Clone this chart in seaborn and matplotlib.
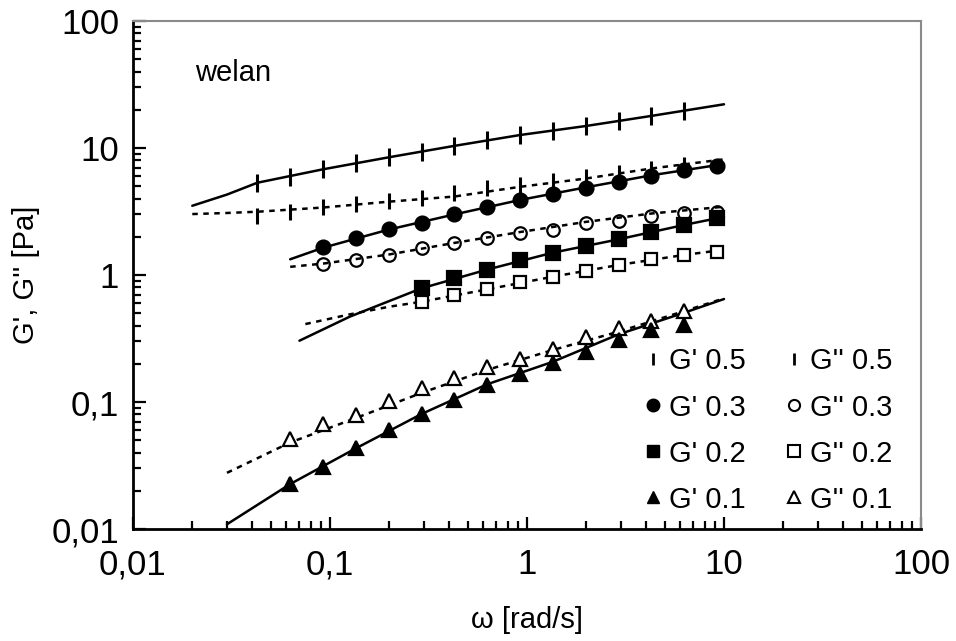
import matplotlib
matplotlib.use("Agg")
import matplotlib.pyplot as plt
import seaborn as sns
from matplotlib.lines import Line2D
from matplotlib.ticker import LogLocator, FuncFormatter, NullFormatter

# Angular frequencies of the oscillatory sweep (rad/s)
omega = [0.0428, 0.0628, 0.0922, 0.1354, 0.1987, 0.2916, 0.4281,
         0.6283, 0.9222, 1.354, 1.987, 2.916, 4.281, 6.283, 9.222]

# Measured moduli (Pa) for each welan concentration
gp_05 = [5.33, 5.94, 6.80, 7.58, 8.45, 9.35, 10.4, 11.56, 12.66, 13.7, 14.9, 16.4, 17.9, 19.7]
gpp_05 = [2.93, 3.15, 3.41, 3.62, 3.85, 4.06, 4.40, 4.82, 5.12, 5.53, 5.88, 6.40, 6.85, 7.40]
gp_03 = [1.67, 1.95, 2.30, 2.58, 3.02, 3.45, 3.90, 4.34, 4.87, 5.43, 6.05, 6.71, 7.26]
gpp_03 = [1.22, 1.31, 1.44, 1.62, 1.78, 1.95, 2.15, 2.26, 2.55, 2.68, 2.92, 3.09, 3.15]
gp_02 = [0.786, 0.942, 1.104, 1.31, 1.50, 1.69, 1.91, 2.19, 2.48, 2.79]
gpp_02 = [0.616, 0.696, 0.771, 0.886, 0.970, 1.08, 1.20, 1.33, 1.44, 1.52]
gp_01 = [0.0226, 0.0310, 0.0432, 0.0602, 0.0805, 0.1037, 0.136, 0.166, 0.202, 0.249, 0.308, 0.369, 0.404]
gpp_01 = [0.0508, 0.0671, 0.0790, 0.1023, 0.128, 0.155, 0.188, 0.218, 0.260, 0.323, 0.380, 0.437, 0.524]

# Model curves (solid: G', dotted: G'')
fit_w_05 = [0.02, 0.03, 0.0428, 0.0922, 0.1987, 0.4281, 0.9222, 1.987, 4.281, 10]
fit_gp_05 = [3.51, 4.30, 5.33, 6.80, 8.45, 10.4, 12.66, 14.9, 17.9, 22.1]
fit_gpp_05 = [3.02, 3.08, 3.15, 3.40, 3.78, 4.15, 4.95, 5.75, 6.90, 8.15]
fit_w_03 = [0.0628, 0.0922, 0.1987, 0.4281, 0.9222, 1.987, 4.281, 10]
fit_gp_03 = [1.33, 1.64, 2.28, 3.0, 3.9, 4.9, 6.1, 7.48]
fit_gpp_03 = [1.16, 1.23, 1.45, 1.79, 2.18, 2.62, 3.05, 3.45]
fit_w_02g1 = [0.07, 0.126, 0.2, 0.2916, 0.6283, 1.354, 2.916, 6.283, 10]
fit_gp_02 = [0.304, 0.47, 0.624, 0.786, 1.104, 1.50, 1.91, 2.48, 2.87]
fit_w_02g2 = [0.075, 0.126, 0.2, 0.2916, 0.6283, 1.354, 2.916, 6.283, 10]
fit_gpp_02 = [0.411, 0.49, 0.563, 0.616, 0.771, 0.97, 1.20, 1.44, 1.58]
fit_w_01 = [0.03, 0.0628, 0.1354, 0.2916, 0.6283, 1.354, 2.916, 6.283, 10]
fit_gp_01 = [0.0109, 0.0226, 0.0432, 0.0805, 0.138, 0.2075, 0.341, 0.505, 0.647]
fit_gpp_01 = [0.0277, 0.048, 0.0748, 0.118, 0.179, 0.257, 0.358, 0.52, 0.655]

legend_labels = ["G' 0.5", "G' 0.3", "G' 0.2", "G' 0.1",
                 "G'' 0.5", "G'' 0.3", "G'' 0.2", "G'' 0.1"]

sns.set_style("ticks")
plt.rcParams["font.family"] = ["Liberation Sans", "DejaVu Sans"]
plt.rcParams.update({"text.color": "black", "axes.labelcolor": "black",
                     "xtick.color": "black", "ytick.color": "black"})

fig = plt.figure(figsize=(9.56, 6.41), dpi=100)
ax = fig.add_axes([0.1391, 0.1747, 0.8243, 0.7925])

solid = dict(color="black", linewidth=1.8, estimator=None, sort=False)
dotted = dict(color="black", linewidth=1.8, estimator=None, sort=False,
              linestyle=(0, (2.2, 2.2)))

sns.lineplot(x=fit_w_05, y=fit_gp_05, ax=ax, **solid)
sns.lineplot(x=fit_w_05, y=fit_gpp_05, ax=ax, **dotted)
sns.lineplot(x=fit_w_03, y=fit_gp_03, ax=ax, **solid)
sns.lineplot(x=fit_w_03, y=fit_gpp_03, ax=ax, **dotted)
sns.lineplot(x=fit_w_02g1, y=fit_gp_02, ax=ax, **solid)
sns.lineplot(x=fit_w_02g2, y=fit_gpp_02, ax=ax, **dotted)
sns.lineplot(x=fit_w_01, y=fit_gp_01, ax=ax, **solid)
sns.lineplot(x=fit_w_01, y=fit_gpp_01, ax=ax, **dotted)


def points(w, g, marker, size, face, edge_w=1.6):
    sns.lineplot(x=w, y=g, ax=ax, estimator=None, sort=False, linestyle="",
                 marker=marker, markersize=size, color="black",
                 markerfacecolor=face, markeredgecolor="black",
                 markeredgewidth=edge_w)


# G'' first, G' on top
points(omega[0:14], gpp_05, "|", 12, "black", 2.2)
points(omega[2:15], gpp_03, "o", 9, "none")
points(omega[5:15], gpp_02, "s", 9, "white")
points(omega[1:14], gpp_01, "^", 9.5, "white")
points(omega[0:14], gp_05, "|", 13, "black", 2.2)
points(omega[2:15], gp_03, "o", 10, "black")
points(omega[5:15], gp_02, "s", 9.5, "black")
points(omega[1:14], gp_01, "^", 10, "black")

ax.set_xscale("log")
ax.set_yscale("log")
ax.set_xlim(0.01, 100)
ax.set_ylim(0.01, 100)


def comma_fmt(v, _pos):
    s = f"{v:g}"
    return s.replace(".", ",")


for axis in (ax.xaxis, ax.yaxis):
    axis.set_major_locator(LogLocator(base=10, numticks=10))
    axis.set_minor_locator(LogLocator(base=10, subs=range(2, 10), numticks=20))
    axis.set_major_formatter(FuncFormatter(comma_fmt))
    axis.set_minor_formatter(NullFormatter())

ax.tick_params(which="both", direction="in", top=False, right=False,
               width=1.6, colors="black", labelsize=25, pad=14)
ax.tick_params(which="major", length=9)
ax.tick_params(which="minor", length=6)
ax.tick_params(axis="y", pad=10)

for side in ("left", "bottom"):
    ax.spines[side].set_linewidth(2)
    ax.spines[side].set_color("black")
for side in ("top", "right"):
    ax.spines[side].set_linewidth(1.5)
    ax.spines[side].set_color("#8a8a8a")

ax.set_xlabel("ω [rad/s]", fontsize=21, labelpad=18)
ax.set_ylabel("G', G'' [Pa]", fontsize=21, labelpad=8)

ax.text(0.079, 0.882, "welan", transform=ax.transAxes, fontsize=21,
        va="baseline", ha="left")

handles = [
    Line2D([], [], linestyle="", marker="|", markersize=9, markeredgewidth=2, color="black"),
    Line2D([], [], linestyle="", marker="o", markersize=9, color="black"),
    Line2D([], [], linestyle="", marker="s", markersize=9, color="black"),
    Line2D([], [], linestyle="", marker="^", markersize=9, color="black"),
    Line2D([], [], linestyle="", marker="|", markersize=9, markeredgewidth=2, color="black"),
    Line2D([], [], linestyle="", marker="o", markersize=8, markerfacecolor="white",
           markeredgecolor="black", markeredgewidth=1.5),
    Line2D([], [], linestyle="", marker="s", markersize=8, markerfacecolor="white",
           markeredgecolor="black", markeredgewidth=1.5),
    Line2D([], [], linestyle="", marker="^", markersize=8, markerfacecolor="white",
           markeredgecolor="black", markeredgewidth=1.5),
]
ax.legend(handles, legend_labels, ncol=2, loc="lower right",
          bbox_to_anchor=(0.99, -0.01), frameon=False, fontsize=21,
          handlelength=0.6, handletextpad=0.25, columnspacing=1.35,
          labelspacing=0.62, borderpad=0.2)

fig.savefig("out.png", dpi=100)
